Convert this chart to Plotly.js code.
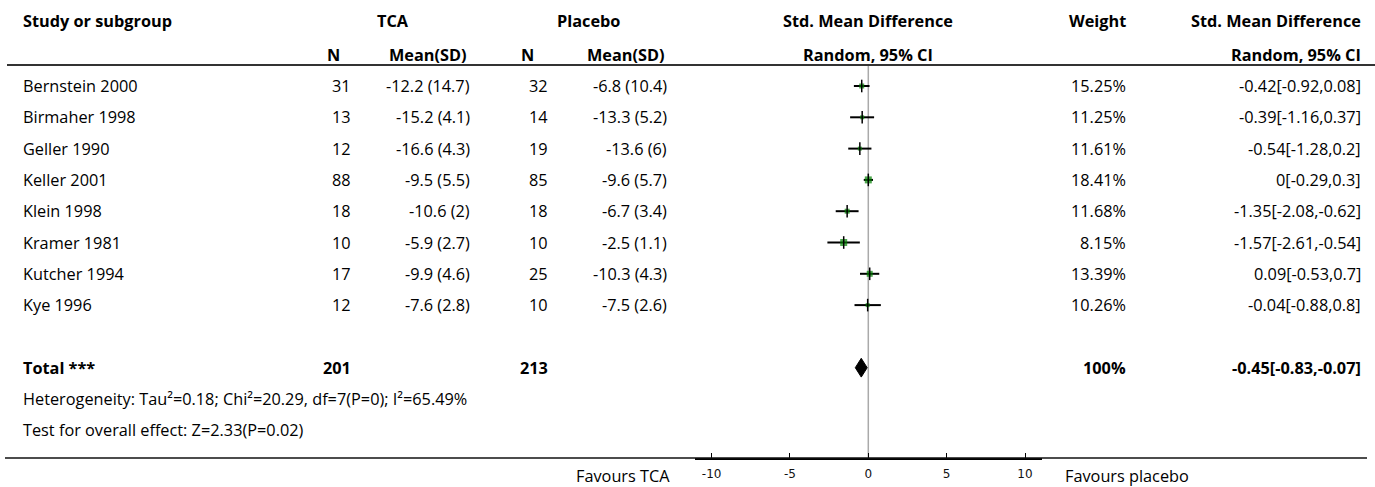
<!DOCTYPE html>
<html>
<head>
<meta charset="utf-8">
<script src="https://cdn.plot.ly/plotly-3.0.1.min.js"></script>
<style>html,body{margin:0;padding:0;background:#fff;}#chart{width:1375px;height:487px;}</style>
</head>
<body>
<div id="chart"></div>
<script>
// ---------- data ----------
const studies = ["Bernstein 2000","Birmaher 1998","Geller 1990","Keller 2001","Klein 1998","Kramer 1981","Kutcher 1994","Kye 1996"];
const tcaN = [31,13,12,88,18,10,17,12];
const tcaMean = [-12.2,-15.2,-16.6,-9.5,-10.6,-5.9,-9.9,-7.6];
const tcaSD = [14.7,4.1,4.3,5.5,2,2.7,4.6,2.8];
const placeboN = [32,14,19,85,18,10,25,10];
const placeboMean = [-6.8,-13.3,-13.6,-9.6,-6.7,-2.5,-10.3,-7.5];
const placeboSD = [10.4,5.2,6,5.7,3.4,1.1,4.3,2.6];
const smd = [-0.42,-0.39,-0.54,0,-1.35,-1.57,0.09,-0.04];
const ciLow = [-0.92,-1.16,-1.28,-0.29,-2.08,-2.61,-0.53,-0.88];
const ciHigh = [0.08,0.37,0.2,0.3,-0.62,-0.54,0.7,0.8];
const weight = [15.25,11.25,11.61,18.41,11.68,8.15,13.39,10.26];
const totalTcaN = 201, totalPlaceboN = 213;
const totalSmd = -0.45, totalLow = -0.83, totalHigh = -0.07, totalWeight = 100;
const heterogeneityText = "Heterogeneity: Tau²=0.18; Chi²=20.29, df=7(P=0); I²=65.49%";
const overallText = "Test for overall effect: Z=2.33(P=0.02)";
const axisTicks = [-10,-5,0,5,10];
const leftLabel = "Favours TCA", rightLabel = "Favours placebo";

// ---------- styling ----------
const W = 1375, H = 487;
const FONT = "'Open Sans', 'Noto Sans', sans-serif";
const FS = 16.3;
const boxPx = [5,4,4,7,5,7,6,4];
const rowY0 = 86, rowStep = 31.3;             // pixel of row 0, pixel per row
const yTop = -rowY0 / rowStep, yBot = (H - rowY0) / rowStep;
const py = p => (p - rowY0) / rowStep;        // pixel -> row units
const px = p => p / W;                        // pixel -> paper x
const totalRow = 9, hetRow = 10, testRow = 11;
const bottomPx = 458;

const annotations = [];
function txt(x, y, text, anchor, bold, size) {
  annotations.push({xref:'paper', yref:'y', x:px(x), y:y, text: bold ? '<b>'+text+'</b>' : text,
    xanchor:anchor, yanchor:'middle', showarrow:false,
    font:{family:FONT, size:size||FS, color:'#000'}});
}
// column anchors (pixels)
const cStudy = 21, cTcaN = 353, cTcaM = 472, cPlN = 550, cPlM = 669, cW = 1128, cCI = 1363;
// headers
const h1 = py(21), h2 = py(55);
txt(cStudy, h1, "Study or subgroup", 'left', true);
txt(393, h1, "TCA", 'center', true);
txt(588, h1, "Placebo", 'center', true);
txt(868, h1, "Std. Mean Difference", 'center', true);
txt(cW, h1, "Weight", 'right', true);
txt(cCI, h1, "Std. Mean Difference", 'right', true);
txt(333, h2, "N", 'center', true);
txt(428, h2, "Mean(SD)", 'center', true);
txt(527, h2, "N", 'center', true);
txt(626, h2, "Mean(SD)", 'center', true);
txt(868, h2, "Random, 95% CI", 'center', true);
txt(cCI, h2, "Random, 95% CI", 'right', true);

studies.forEach((s, i) => {
  txt(cStudy, i, s, 'left');
  txt(cTcaN, i, String(tcaN[i]), 'right');
  txt(cTcaM, i, tcaMean[i] + ' (' + tcaSD[i] + ')', 'right');
  txt(cPlN, i, String(placeboN[i]), 'right');
  txt(cPlM, i, placeboMean[i] + ' (' + placeboSD[i] + ')', 'right');
  txt(cW, i, weight[i] + '%', 'right');
  txt(cCI, i, smd[i] + '[' + ciLow[i] + ',' + ciHigh[i] + ']', 'right');
});
txt(cStudy, totalRow, "Total ***", 'left', true);
txt(cTcaN, totalRow, String(totalTcaN), 'right', true);
txt(cPlN, totalRow, String(totalPlaceboN), 'right', true);
txt(cW, totalRow, totalWeight + '%', 'right', true);
txt(cCI, totalRow, totalSmd + '[' + totalLow + ',' + totalHigh + ']', 'right', true);
txt(cStudy, hetRow, heterogeneityText, 'left');
txt(cStudy, testRow, overallText, 'left');
txt(672, py(476), leftLabel, 'right');
txt(1063, py(476), rightLabel, 'left');

const lineY = py(bottomPx);
const shapes = [
  {type:'line', xref:'paper', yref:'y', x0:px(7), x1:1, y0:py(65), y1:py(65), line:{color:'#333', width:2}},
  {type:'line', xref:'paper', yref:'y', x0:px(5), x1:px(1367), y0:lineY, y1:lineY, line:{color:'#111', width:1.5}},
  {type:'line', xref:'x', yref:'y', x0:0, x1:0, y0:py(65), y1:lineY, line:{color:'#aaa', width:1.5}, layer:'below'}
];

const traces = [];
// CI lines
studies.forEach((s, i) => {
  traces.push({type:'scatter', mode:'lines', x:[ciLow[i], ciHigh[i]], y:[i, i],
    line:{color:'#000', width:2}, hoverinfo:'skip', showlegend:false});
});
const idx = studies.map((s, i) => i);
traces.push({type:'scatter', mode:'markers', x:smd, y:idx,
  marker:{symbol:'square', color:'#008000', size:boxPx, line:{width:0}}, showlegend:false, hoverinfo:'skip'});
traces.push({type:'scatter', mode:'markers', x:smd, y:idx,
  marker:{symbol:'line-ns', size:9, line:{color:'#000', width:1.5}}, showlegend:false, hoverinfo:'skip'});
// total diamond
const dh = 0.3;
traces.push({type:'scatter', mode:'lines', fill:'toself', fillcolor:'#000',
  x:[totalLow, totalSmd, totalHigh, totalSmd, totalLow],
  y:[totalRow, totalRow - dh, totalRow, totalRow + dh, totalRow],
  line:{color:'#000', width:1}, showlegend:false, hoverinfo:'skip'});

const xL = 695, xR = 1042, zeroPx = 868.3, perUnit = 15.67;
const layout = {
  width:W, height:H, margin:{l:0, r:0, t:0, b:0},
  paper_bgcolor:'#fff', plot_bgcolor:'rgba(0,0,0,0)', showlegend:false,
  xaxis:{domain:[px(xL), px(xR)], range:[(xL - zeroPx) / perUnit, (xR - zeroPx) / perUnit],
    showgrid:false, zeroline:false, showline:true, linecolor:'#000', linewidth:1.5,
    ticks:'inside', ticklen:5, tickwidth:1, tickcolor:'#000',
    tickmode:'array', tickvals:axisTicks, ticktext:axisTicks.map(String), ticklabelstandoff:4,
    tickfont:{family:'DejaVu Sans, sans-serif', size:12, color:'#111'},
    anchor:'free', position:1 - bottomPx / H, fixedrange:true},
  yaxis:{domain:[0, 1], range:[yBot, yTop], visible:false, fixedrange:true},
  shapes:shapes, annotations:annotations
};
Plotly.newPlot('chart', traces, layout, {staticPlot:true, displayModeBar:false});
</script>
</body>
</html>
